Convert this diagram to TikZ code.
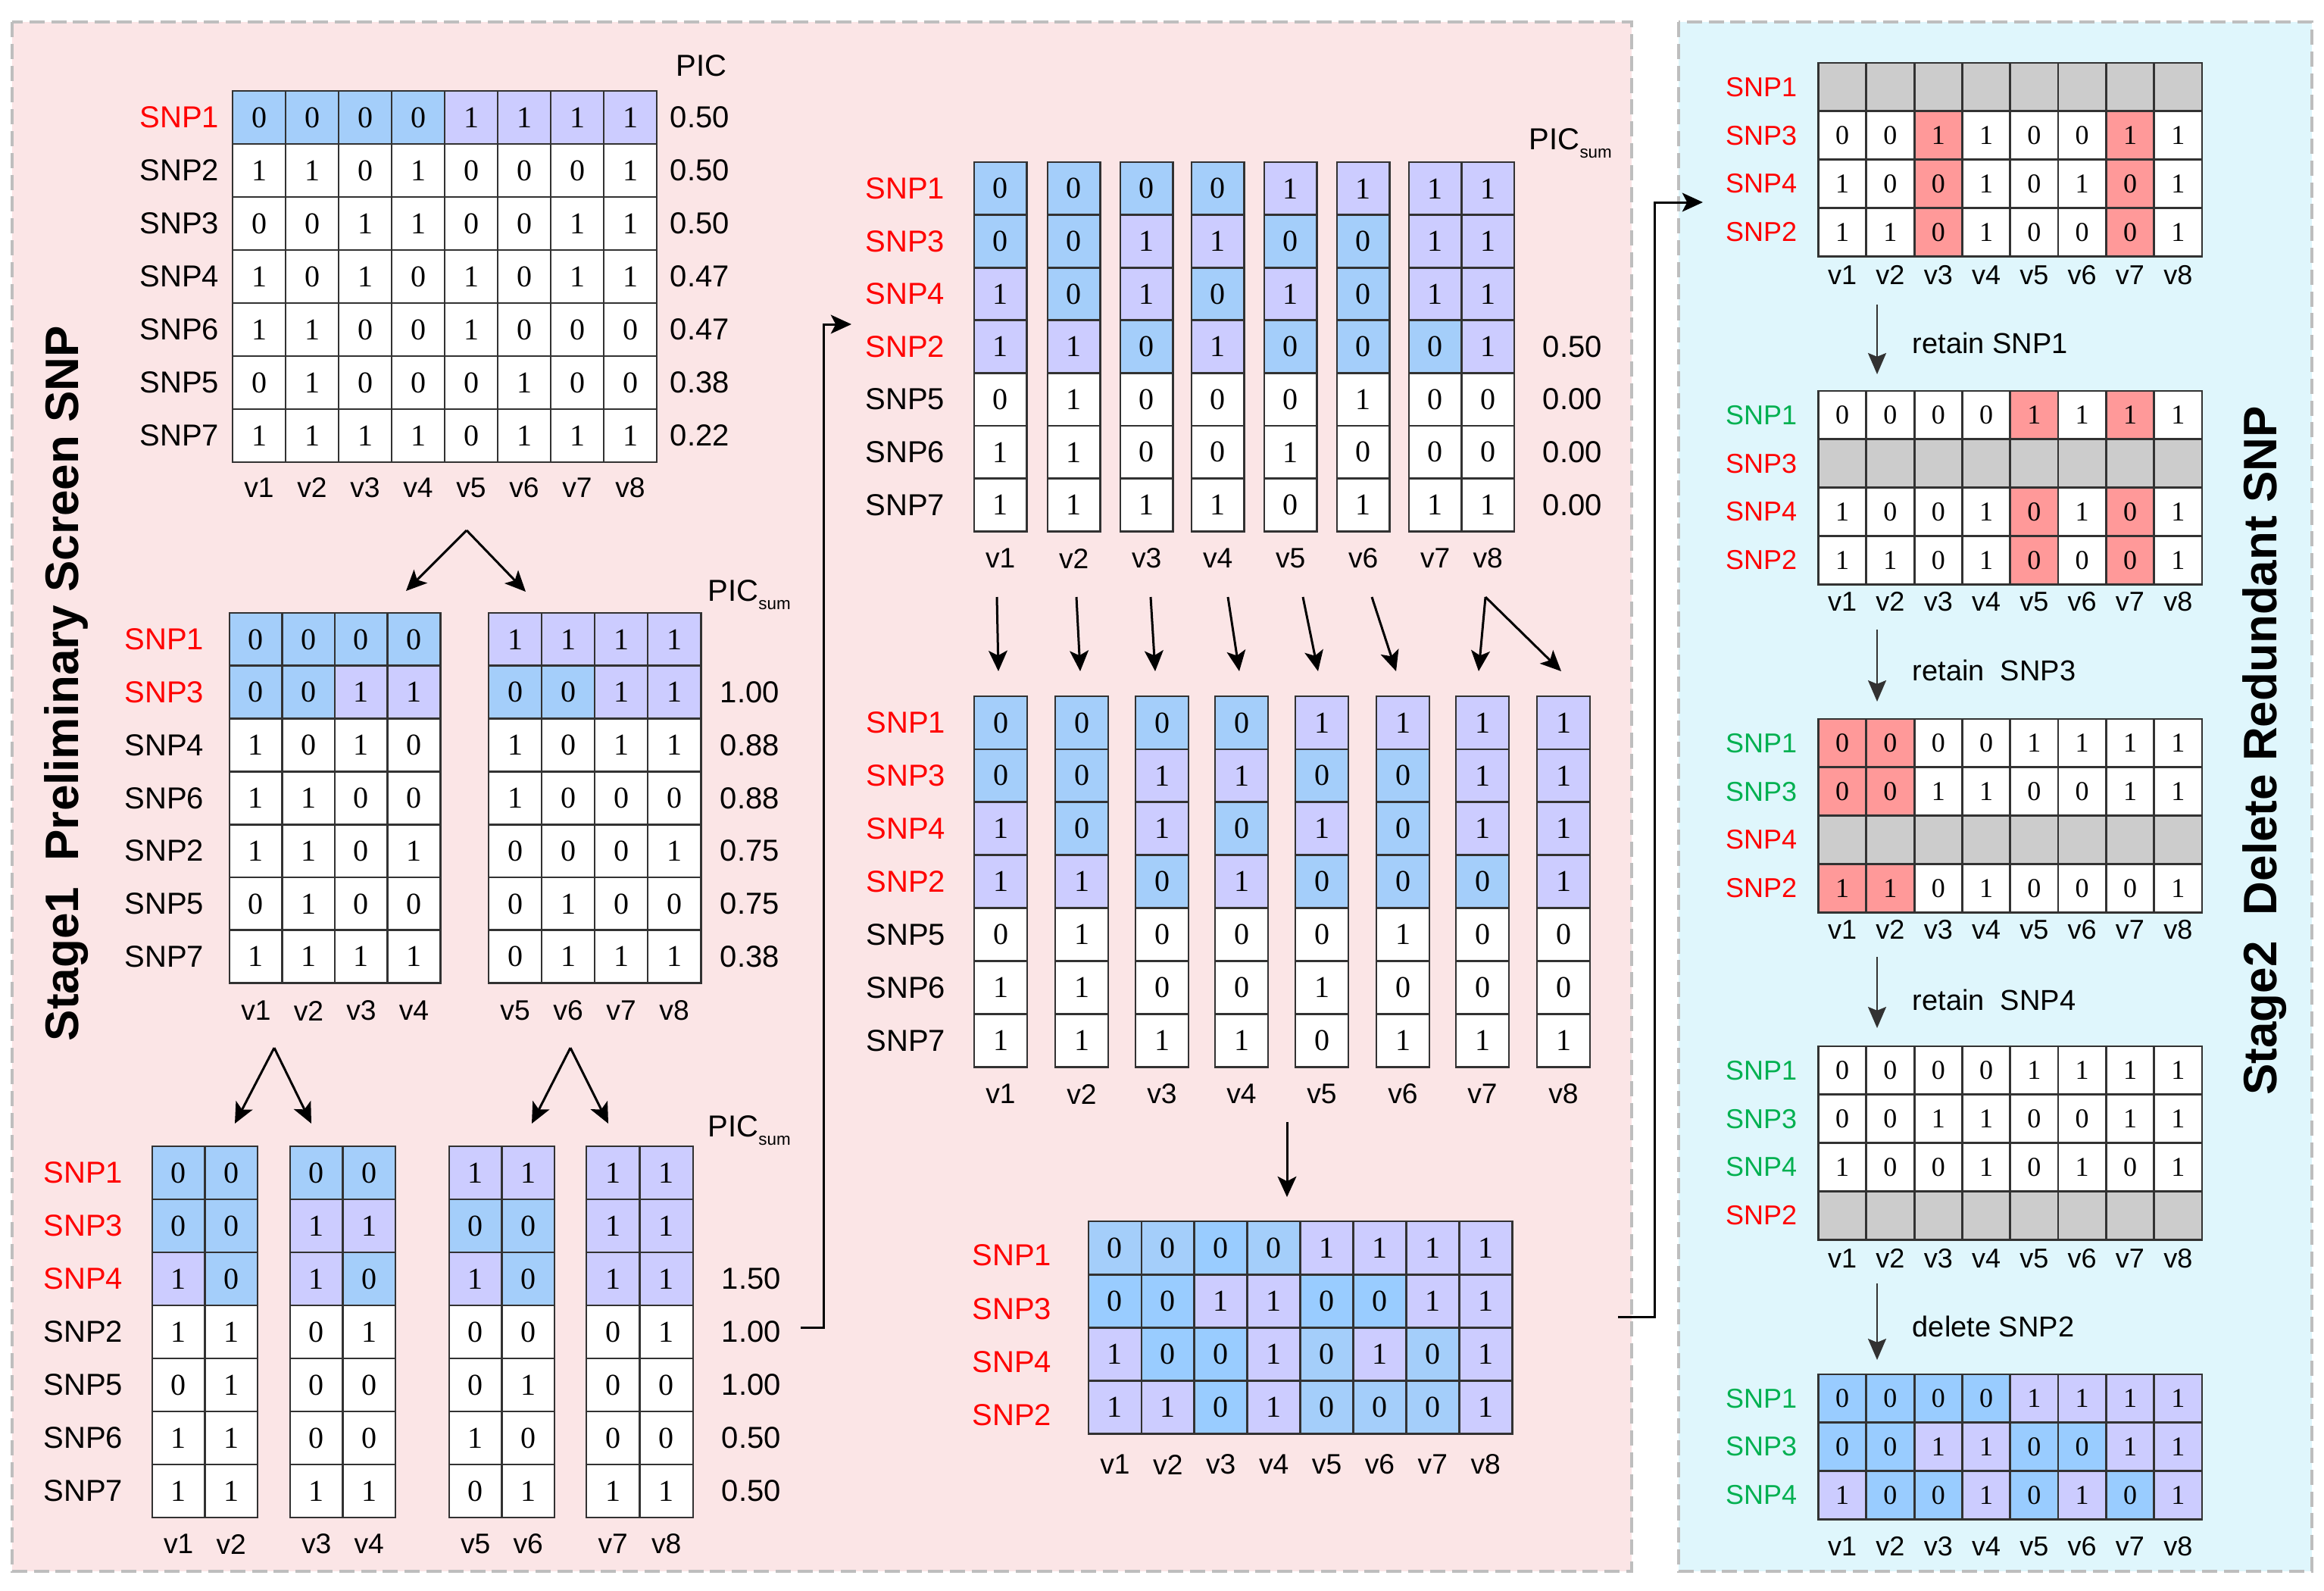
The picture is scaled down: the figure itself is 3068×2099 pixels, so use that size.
\documentclass[tikz,border=0pt]{standalone}
\usepackage{fontspec}
\setmainfont{Liberation Sans}
\newfontfamily\serifdig{Liberation Serif}
\usetikzlibrary{arrows.meta,calc}
\definecolor{pinkbg}{RGB}{251,229,230}
\definecolor{bluebg}{RGB}{223,246,252}
\definecolor{xb}{RGB}{164,206,250}
\definecolor{xd}{RGB}{153,204,255}
\definecolor{xp}{RGB}{204,204,255}
\definecolor{xr}{RGB}{255,153,153}
\definecolor{xg}{RGB}{204,204,204}
\definecolor{xw}{RGB}{255,255,255}
\definecolor{snpred}{RGB}{255,0,0}
\definecolor{snpgreen}{RGB}{0,176,80}
\definecolor{gridc}{RGB}{50,50,50}
\definecolor{dashc}{RGB}{190,190,190}
\definecolor{arrowc}{RGB}{50,50,50}

% #1 name, #2 x list, #3 y0, #4 cell w, #5 cell h, #6 rows macro
\newcommand\drawtable[6]{%
  \foreach \rw [count=\ri from 0] in #6 {%
    \foreach \ff/\vv [count=\ci from 0] in \rw {%
      \pgfmathsetmacro\xx{{#2}[\ci]}%
      \pgfmathsetmacro\yy{#3+(#5)*\ri}%
      \filldraw[cellbox, fill=\ff] (\xx,\yy) rectangle ++(#4,#5);%
      \node[celltxt] (#1-\ri-\ci) at (\xx+#4/2,\yy+#5/2) {\vv};%
    }}}
% #1 name, #2 x right, #3 y0, #4 h, #5 list color/text
\newcommand\rowlabels[5]{%
  \foreach \cl/\tx [count=\ri from 0] in {#5} {%
    \node[lbl, text=\cl, anchor=east] (#1-l\ri) at (#2,#3+#4*\ri+#4/2) {\tx};}}
% #1 name, #2 x list, #3 w, #4 y, #5 labels
\newcommand\vlabels[5]{%
  \foreach \tx [count=\ci from 0] in {#5} {%
    \pgfmathsetmacro\xx{{#2}[\ci]}%
    \node[vlbl] (#1-v\ci) at (\xx+#3/2,#4) {\tx};}}
% #1 name, #2 x left, #3 y0 of first valued row, #4 h, #5 values
\newcommand\picvals[5]{%
  \foreach \tx [count=\ri from 0] in {#5} {%
    \node[lbl, anchor=west] (#1-p\ri) at (#2,#3+#4*\ri+#4/2) {\tx};}}

\begin{document}
\begin{tikzpicture}[x=0.25pt,y=-0.25pt,
  cellbox/.style={draw=gridc, line width=0.7pt},
  celltxt/.style={inner sep=0pt, font=\serifdig\fontsize{10}{12}\selectfont},
  lbl/.style={inner sep=0pt, font=\fontsize{10}{12}\selectfont},
  vlbl/.style={inner sep=0pt, font=\fontsize{9.3}{11}\selectfont},
  arr/.style={line width=0.75pt, -{Stealth[length=6.8pt,width=6.2pt,inset=1.6pt]}},
  arr2/.style={draw=arrowc, line width=0.6pt, -{Stealth[length=7pt,width=6pt,inset=1.2pt]}},
  panel/.style={draw=dashc, line width=1pt, dash pattern=on 5pt off 2.2pt},
  stagelbl/.style={inner sep=0pt, rotate=90, font=\bfseries\fontsize{15.5}{18}\selectfont},
  note/.style={inner sep=0pt, anchor=west, font=\fontsize{9.5}{11}\selectfont}
]
\useasboundingbox (0,0) rectangle (3068,2099);
\fill[white] (0,0) rectangle (3068,2099);
% panels
\filldraw[panel, fill=pinkbg] (16,29) rectangle (2154,2074);
\filldraw[panel, fill=bluebg] (2216,29) rectangle (3052,2074);

\node[stagelbl] (stage1) at (88,902) {Stage1\ \ Preliminary Screen SNP};
\node[stagelbl] (stage2) at (2990,991) {Stage2\ \ Delete Redundant SNP};

% ---------- T0 ----------
\def\TzeroRows{{xb/0,xb/0,xb/0,xb/0,xp/1,xp/1,xp/1,xp/1},
{xw/1,xw/1,xw/0,xw/1,xw/0,xw/0,xw/0,xw/1},
{xw/0,xw/0,xw/1,xw/1,xw/0,xw/0,xw/1,xw/1},
{xw/1,xw/0,xw/1,xw/0,xw/1,xw/0,xw/1,xw/1},
{xw/1,xw/1,xw/0,xw/0,xw/1,xw/0,xw/0,xw/0},
{xw/0,xw/1,xw/0,xw/0,xw/0,xw/1,xw/0,xw/0},
{xw/1,xw/1,xw/1,xw/1,xw/0,xw/1,xw/1,xw/1}}
\drawtable{T0}{307,377,447,517,587,657,727,797}{120}{70}{70}{\TzeroRows}
\rowlabels{T0}{290}{120}{70}{snpred/SNP1,black/SNP2,black/SNP3,black/SNP4,black/SNP6,black/SNP5,black/SNP7}
\vlabels{T0}{307,377,447,517,587,657,727,797}{70}{644}{v1,v2,v3,v4,v5,v6,v7,v8}
\picvals{T0}{884}{120}{70}{0.50,0.50,0.50,0.47,0.47,0.38,0.22}
\node[lbl, anchor=base west] (T0h) at (892,100) {PIC};

% split arrows
\coordinate (s0) at (616,700);
\coordinate (s0l) at (536,780);
\coordinate (s0r) at (694,781);
\draw[arr] (s0) -- (s0l);
\draw[arr] (s0) -- (s0r);

% ---------- T1 / T2 ----------
\def\ToneRows{{xb/0,xb/0,xb/0,xb/0},{xb/0,xb/0,xp/1,xp/1},{xw/1,xw/0,xw/1,xw/0},
{xw/1,xw/1,xw/0,xw/0},{xw/1,xw/1,xw/0,xw/1},{xw/0,xw/1,xw/0,xw/0},{xw/1,xw/1,xw/1,xw/1}}
\def\TtwoRows{{xp/1,xp/1,xp/1,xp/1},{xb/0,xb/0,xp/1,xp/1},{xw/1,xw/0,xw/1,xw/1},
{xw/1,xw/0,xw/0,xw/0},{xw/0,xw/0,xw/0,xw/1},{xw/0,xw/1,xw/0,xw/0},{xw/0,xw/1,xw/1,xw/1}}
\drawtable{T1}{303,372.5,442,511.5}{809}{69.8}{69.8}{\ToneRows}
\drawtable{T2}{645,715,785,855}{809}{70.2}{69.8}{\TtwoRows}
\rowlabels{T1}{270}{809}{69.8}{snpred/SNP1,snpred/SNP3,black/SNP4,black/SNP6,black/SNP2,black/SNP5,black/SNP7}
\vlabels{T1}{303,372.5,442,511.5}{69.8}{1334}{v1,v2,v3,v4}
\vlabels{T2}{645,715,785,855}{70.2}{1334}{v5,v6,v7,v8}
\picvals{T2}{950}{878.8}{69.8}{1.00,0.88,0.88,0.75,0.75,0.38}
\node[lbl, anchor=base west] (T2h) at (934,793) {PIC\raisebox{-2.8pt}{\fontsize{5.6}{6}\selectfont sum}};

% split arrows to bottom
\coordinate (s1) at (362,1383);
\coordinate (s1l) at (310,1483);
\coordinate (s1r) at (411,1483);
\coordinate (s2) at (753,1383);
\coordinate (s2l) at (702,1483);
\coordinate (s2r) at (803,1483);
\draw[arr] (s1) -- (s1l);
\draw[arr] (s1) -- (s1r);
\draw[arr] (s2) -- (s2l);
\draw[arr] (s2) -- (s2r);

% ---------- bottom 2-column tables ----------
\def\BaRows{{xb/0,xb/0},{xb/0,xb/0},{xp/1,xb/0},{xw/1,xw/1},{xw/0,xw/1},{xw/1,xw/1},{xw/1,xw/1}}
\def\BbRows{{xb/0,xb/0},{xp/1,xp/1},{xp/1,xb/0},{xw/0,xw/1},{xw/0,xw/0},{xw/0,xw/0},{xw/1,xw/1}}
\def\BcRows{{xp/1,xp/1},{xb/0,xb/0},{xp/1,xb/0},{xw/0,xw/0},{xw/0,xw/1},{xw/1,xw/0},{xw/0,xw/1}}
\def\BdRows{{xp/1,xp/1},{xp/1,xp/1},{xp/1,xp/1},{xw/0,xw/1},{xw/0,xw/0},{xw/0,xw/0},{xw/1,xw/1}}
\drawtable{BA}{201,270.5}{1513}{69.5}{70}{\BaRows}
\drawtable{BB}{383,452.5}{1513}{69.5}{70}{\BbRows}
\drawtable{BC}{593,662.5}{1513}{69.5}{70}{\BcRows}
\drawtable{BD}{774,844.5}{1513}{70.5}{70}{\BdRows}
\rowlabels{BA}{163}{1513}{70}{snpred/SNP1,snpred/SNP3,snpred/SNP4,black/SNP2,black/SNP5,black/SNP6,black/SNP7}
\vlabels{BA}{201,270.5}{69.5}{2038}{v1,v2}
\vlabels{BB}{383,452.5}{69.5}{2038}{v3,v4}
\vlabels{BC}{593,662.5}{69.5}{2038}{v5,v6}
\vlabels{BD}{774,844.5}{70.5}{2038}{v7,v8}
\picvals{BD}{952}{1653}{70}{1.50,1.00,1.00,0.50,0.50}
\node[lbl, anchor=base west] (BDh) at (934,1500) {PIC\raisebox{-2.8pt}{\fontsize{5.6}{6}\selectfont sum}};

% connector to middle
\coordinate (c1s) at (1057,1752);
\coordinate (c1m) at (1087,428);
\coordinate (c1e) at (1124,428);
\draw[arr] (c1s) -| (c1m) -- (c1e);

% ---------- M1 ----------
\def\MRows{{xb/0,xb/0,xb/0,xb/0,xp/1,xp/1,xp/1,xp/1},
{xb/0,xb/0,xp/1,xp/1,xb/0,xb/0,xp/1,xp/1},
{xp/1,xb/0,xp/1,xb/0,xp/1,xb/0,xp/1,xp/1},
{xp/1,xp/1,xb/0,xp/1,xb/0,xb/0,xb/0,xp/1},
{xw/0,xw/1,xw/0,xw/0,xw/0,xw/1,xw/0,xw/0},
{xw/1,xw/1,xw/0,xw/0,xw/1,xw/0,xw/0,xw/0},
{xw/1,xw/1,xw/1,xw/1,xw/0,xw/1,xw/1,xw/1}}
\drawtable{M1}{1286,1383,1479,1573,1669,1765,1860,1929.5}{214}{69.5}{69.6}{\MRows}
\rowlabels{M1}{1248}{214}{69.6}{snpred/SNP1,snpred/SNP3,snpred/SNP4,snpred/SNP2,black/SNP5,black/SNP6,black/SNP7}
\vlabels{M1}{1286,1383,1479,1573,1669,1765,1860,1929.5}{69.5}{737}{v1,v2,v3,v4,v5,v6,v7,v8}
\picvals{M1}{2036}{422.8}{69.6}{0.50,0.00,0.00,0.00}
\node[lbl, anchor=base west] (M1h) at (2018,197) {PIC\raisebox{-2.8pt}{\fontsize{5.6}{6}\selectfont sum}};

% arrows M1 -> M2
\foreach \sx/\ex [count=\k] in {1316/1318,1421/1426,1519/1525,1621/1636,1720/1740,1811/1843,1961/1952,1961/2061}{
  \coordinate (ma\k) at (\sx,788);
  \coordinate (mb\k) at (\ex,886);
  \draw[arr] (ma\k) -- (mb\k);
}

% ---------- M2 ----------
\drawtable{M2}{1286,1393,1499,1604,1710,1817,1922,2029}{919}{70}{69.9}{\MRows}
\rowlabels{M2}{1249}{919}{69.9}{snpred/SNP1,snpred/SNP3,snpred/SNP4,snpred/SNP2,black/SNP5,black/SNP6,black/SNP7}
\vlabels{M2}{1286,1393,1499,1604,1710,1817,1922,2029}{70}{1444}{v1,v2,v3,v4,v5,v6,v7,v8}

\coordinate (m2s) at (1699,1481);
\coordinate (m3e) at (1699,1580);
\draw[arr] (m2s) -- (m3e);

% ---------- M3 ----------
\def\MthreeRows{{xb/0,xb/0,xd/0,xb/0,xp/1,xp/1,xp/1,xp/1},
{xd/0,xd/0,xp/1,xp/1,xd/0,xd/0,xp/1,xp/1},
{xp/1,xd/0,xd/0,xp/1,xb/0,xp/1,xb/0,xp/1},
{xp/1,xp/1,xd/0,xp/1,xb/0,xb/0,xb/0,xp/1}}
\drawtable{M3}{1437,1506.9,1576.8,1646.7,1716.6,1786.5,1856.4,1926.3}{1612}{69.9}{70.2}{\MthreeRows}
\rowlabels{M3}{1389}{1622}{70.2}{snpred/SNP1,snpred/SNP3,snpred/SNP4,snpred/SNP2}
\vlabels{M3}{1437,1506.9,1576.8,1646.7,1716.6,1786.5,1856.4,1926.3}{69.9}{1933}{v1,v2,v3,v4,v5,v6,v7,v8}

% connector to stage 2
\coordinate (c2s) at (2136,1738);
\coordinate (c2m) at (2184,267);
\coordinate (c2e) at (2248,267);
\draw[arr] (c2s) -| (c2m) -- (c2e);

% ---------- Stage 2 ----------
\begin{scope}[celltxt/.style={inner sep=0pt, font=\serifdig\fontsize{9}{11}\selectfont},
  lbl/.style={inner sep=0pt, font=\fontsize{9}{11}\selectfont},
  vlbl/.style={inner sep=0pt, font=\fontsize{9}{11}\selectfont}]
\def\SoneRows{{xg/{},xg/{},xg/{},xg/{},xg/{},xg/{},xg/{},xg/{}},
{xw/0,xw/0,xr/1,xw/1,xw/0,xw/0,xr/1,xw/1},
{xw/1,xw/0,xr/0,xw/1,xw/0,xw/1,xr/0,xw/1},
{xw/1,xw/1,xr/0,xw/1,xw/0,xw/0,xr/0,xw/1}}
\def\StwoRows{{xw/0,xw/0,xw/0,xw/0,xr/1,xw/1,xr/1,xw/1},
{xg/{},xg/{},xg/{},xg/{},xg/{},xg/{},xg/{},xg/{}},
{xw/1,xw/0,xw/0,xw/1,xr/0,xw/1,xr/0,xw/1},
{xw/1,xw/1,xw/0,xw/1,xr/0,xw/0,xr/0,xw/1}}
\def\SthreeRows{{xr/0,xr/0,xw/0,xw/0,xw/1,xw/1,xw/1,xw/1},
{xr/0,xr/0,xw/1,xw/1,xw/0,xw/0,xw/1,xw/1},
{xg/{},xg/{},xg/{},xg/{},xg/{},xg/{},xg/{},xg/{}},
{xr/1,xr/1,xw/0,xw/1,xw/0,xw/0,xw/0,xw/1}}
\def\SfourRows{{xw/0,xw/0,xw/0,xw/0,xw/1,xw/1,xw/1,xw/1},
{xw/0,xw/0,xw/1,xw/1,xw/0,xw/0,xw/1,xw/1},
{xw/1,xw/0,xw/0,xw/1,xw/0,xw/1,xw/0,xw/1},
{xg/{},xg/{},xg/{},xg/{},xg/{},xg/{},xg/{},xg/{}}}
\def\SfiveRows{{xd/0,xd/0,xd/0,xd/0,xp/1,xp/1,xp/1,xp/1},
{xd/0,xd/0,xp/1,xp/1,xd/0,xd/0,xp/1,xp/1},
{xp/1,xd/0,xd/0,xp/1,xd/0,xp/1,xd/0,xp/1}}
\drawtable{S1}{2400.5,2463.8,2527.1,2590.4,2653.7,2717,2780.3,2843.6}{83}{63.3}{63.8}{\SoneRows}
\drawtable{S2}{2400.5,2463.8,2527.1,2590.4,2653.7,2717,2780.3,2843.6}{516}{63.3}{63.8}{\StwoRows}
\drawtable{S3}{2400.5,2463.8,2527.1,2590.4,2653.7,2717,2780.3,2843.6}{949}{63.3}{63.8}{\SthreeRows}
\drawtable{S4}{2400.5,2463.8,2527.1,2590.4,2653.7,2717,2780.3,2843.6}{1381}{63.3}{63.8}{\SfourRows}
\drawtable{S5}{2400.5,2463.8,2527.1,2590.4,2653.7,2717,2780.3,2843.6}{1814}{63.3}{63.7}{\SfiveRows}
\rowlabels{S1}{2373}{83}{63.8}{snpred/SNP1,snpred/SNP3,snpred/SNP4,snpred/SNP2}
\rowlabels{S2}{2373}{516}{63.8}{snpgreen/SNP1,snpred/SNP3,snpred/SNP4,snpred/SNP2}
\rowlabels{S3}{2373}{949}{63.8}{snpgreen/SNP1,snpgreen/SNP3,snpred/SNP4,snpred/SNP2}
\rowlabels{S4}{2373}{1381}{63.8}{snpgreen/SNP1,snpgreen/SNP3,snpgreen/SNP4,snpred/SNP2}
\rowlabels{S5}{2373}{1814}{63.7}{snpgreen/SNP1,snpgreen/SNP3,snpgreen/SNP4}
\vlabels{S1}{2400.5,2463.8,2527.1,2590.4,2653.7,2717,2780.3,2843.6}{63.3}{363}{v1,v2,v3,v4,v5,v6,v7,v8}
\vlabels{S2}{2400.5,2463.8,2527.1,2590.4,2653.7,2717,2780.3,2843.6}{63.3}{794}{v1,v2,v3,v4,v5,v6,v7,v8}
\vlabels{S3}{2400.5,2463.8,2527.1,2590.4,2653.7,2717,2780.3,2843.6}{63.3}{1227}{v1,v2,v3,v4,v5,v6,v7,v8}
\vlabels{S4}{2400.5,2463.8,2527.1,2590.4,2653.7,2717,2780.3,2843.6}{63.3}{1661}{v1,v2,v3,v4,v5,v6,v7,v8}
\vlabels{S5}{2400.5,2463.8,2527.1,2590.4,2653.7,2717,2780.3,2843.6}{63.3}{2041}{v1,v2,v3,v4,v5,v6,v7,v8}
\end{scope}

% stage 2 arrows and notes
\coordinate (q1a) at (2478,402);  \coordinate (q1b) at (2478,494);
\coordinate (q2a) at (2478,831);  \coordinate (q2b) at (2478,926);
\coordinate (q3a) at (2478,1263); \coordinate (q3b) at (2478,1357);
\coordinate (q4a) at (2478,1694); \coordinate (q4b) at (2478,1795);
\draw[arr2] (q1a) -- (q1b);
\draw[arr2] (q2a) -- (q2b);
\draw[arr2] (q3a) -- (q3b);
\draw[arr2] (q4a) -- (q4b);
\node[note] (n1) at (2524,453) {retain SNP1};
\node[note] (n2) at (2524,885) {retain\ \ SNP3};
\node[note] (n3) at (2524,1320) {retain\ \ SNP4};
\node[note] (n4) at (2524,1751) {delete SNP2};
\end{tikzpicture}
\end{document}
